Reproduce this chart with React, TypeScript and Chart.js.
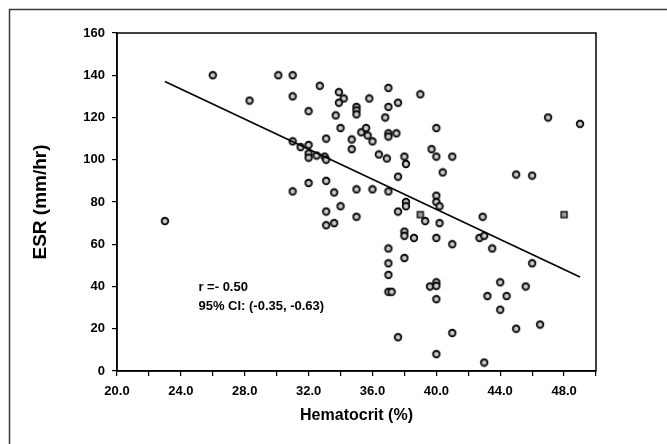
import React, { useEffect, useRef } from 'react';
import { Chart, registerables } from 'chart.js';

Chart.register(...registerables);

// Hematocrit (%) vs ESR (mm/hr) — circle markers
const hematocrit = [
  23.0, 26.0, 28.3, 30.1, 31.0, 31.0, 31.0, 31.0, 31.5, 32.0,
  32.0, 32.0, 32.0, 32.0, 32.5, 32.7, 33.0, 33.1, 33.1, 33.1,
  33.1, 33.1, 33.6, 33.6, 33.9, 34.2, 33.9, 33.7, 34.0, 34.0,
  34.7, 34.7, 35.0, 35.0, 35.0, 35.0, 35.0, 35.3, 35.6, 35.7,
  35.8, 36.0, 36.0, 36.4, 36.8, 36.9, 37.0, 37.0, 37.0, 37.0,
  37.0, 37.0, 37.0, 37.0, 37.0, 37.2, 37.5, 37.6, 37.6, 37.6,
  37.6, 38.0, 38.1, 38.1, 38.1, 38.0, 38.0, 38.0, 38.6, 39.0,
  39.3, 39.6, 39.7, 40.0, 40.0, 40.0, 40.0, 40.2, 40.2, 40.0,
  40.0, 40.0, 40.0, 40.0, 40.4, 41.0, 41.0, 41.0, 42.9, 42.7,
  43.0, 43.0, 43.2, 43.5, 44.0, 44.0, 44.4, 45.0, 45.0, 45.6,
  46.0, 46.0, 46.5, 47.0, 49.0,
];
const esr = [
  71, 140, 128, 140, 140, 130, 108.7, 85, 106, 107,
  103, 101, 123, 89, 102, 135, 101.5, 100, 110, 90,
  75.5, 69, 70, 84.5, 132, 129, 127, 121, 115, 78,
  109.6, 105, 125, 123.4, 121.5, 86, 73, 113, 115, 111.5,
  129, 108.7, 86, 102.5, 120, 100.6, 134, 125, 112.5, 111,
  85, 58, 51, 45.5, 37.5, 37.5, 112.5, 127, 92, 75.5,
  16, 101.5, 98, 80, 78, 66, 64, 53.5, 63, 131,
  71, 40, 105, 115, 101.5, 83, 80, 78, 70, 63,
  42, 40.3, 34, 8, 94, 101.5, 60, 18, 73, 63,
  64, 4, 35.5, 58, 42, 29, 35.5, 93, 20, 40,
  92.5, 51, 22, 120, 117,
];

// Square markers
const squareHematocrit = [39.0, 48.0];
const squareEsr = [74, 74];

// Regression line end points
const fitHematocrit = [23.0, 49.0];
const fitEsr = [137, 44.5];

const annotationLines = ['r =- 0.50', '95% CI: (-0.35, -0.63)'];
const annotationAt = { x: 25.1, y: [39.4, 30.4] };

const xTitle = 'Hematocrit (%)';
const yTitle = 'ESR (mm/hr)';

const FONT = "'Liberation Sans', Arial, Helvetica, sans-serif";

function makeCircle(): HTMLCanvasElement {
  const c = document.createElement('canvas');
  c.width = 10;
  c.height = 10;
  const g = c.getContext('2d')!;
  g.beginPath();
  g.arc(5, 5, 3.4, 0, Math.PI * 2);
  g.fillStyle = '#8c8c8c';
  g.fill();
  g.strokeStyle = '#000';
  g.lineWidth = 1.6;
  g.stroke();
  g.strokeStyle = '#e8e8e8';
  g.lineWidth = 1;
  g.beginPath();
  g.moveTo(5, 3);
  g.lineTo(5, 7);
  g.moveTo(3, 5);
  g.lineTo(7, 5);
  g.stroke();
  return c;
}

function makeSquare(): HTMLCanvasElement {
  const c = document.createElement('canvas');
  c.width = 10;
  c.height = 10;
  const g = c.getContext('2d')!;
  g.fillStyle = '#9a9a9a';
  g.fillRect(2, 2, 6, 6);
  g.strokeStyle = '#000';
  g.lineWidth = 1.3;
  g.strokeRect(2, 2, 6, 6);
  return c;
}

const framePlugin = {
  id: 'framePlugin',
  beforeDraw(chart: any) {
    const ctx = chart.ctx;
    ctx.save();
    ctx.fillStyle = '#fff';
    ctx.fillRect(0, 0, chart.width, chart.height);
    ctx.strokeStyle = '#3a3a3a';
    ctx.lineWidth = 1.5;
    ctx.beginPath();
    ctx.moveTo(9.5, chart.height + 2);
    ctx.lineTo(9.5, 9.5);
    ctx.lineTo(chart.width + 2, 9.5);
    ctx.stroke();
    ctx.restore();
  },
  afterDraw(chart: any) {
    const ctx = chart.ctx;
    const a = chart.chartArea;
    ctx.save();
    ctx.strokeStyle = '#000';
    ctx.lineWidth = 1.5;
    ctx.strokeRect(a.left, a.top, a.right - a.left, a.bottom - a.top);
    const xs = chart.scales.x;
    const ys = chart.scales.y;
    ctx.fillStyle = '#000';
    ctx.font = `bold 13px ${FONT}`;
    ctx.textBaseline = 'middle';
    ctx.textAlign = 'left';
    annotationLines.forEach((t, i) => {
      ctx.fillText(t, xs.getPixelForValue(annotationAt.x), ys.getPixelForValue(annotationAt.y[i]));
    });
    ctx.restore();
  },
};

export default function App() {
  const ref = useRef<HTMLCanvasElement | null>(null);
  useEffect(() => {
    if (!ref.current) return;
    const circle = makeCircle();
    const square = makeSquare();
    const chart = new Chart(ref.current, {
      type: 'scatter',
      data: {
        datasets: [
          {
            type: 'line',
            label: 'fit',
            data: fitHematocrit.map((x, i) => ({ x, y: fitEsr[i] })),
            borderColor: '#000',
            borderWidth: 1.6,
            pointRadius: 0,
            fill: false,
          } as any,
          {
            label: 'circles',
            data: hematocrit.map((x, i) => ({ x, y: esr[i] })),
            pointStyle: circle,
            pointRadius: 5,
          },
          {
            label: 'squares',
            data: squareHematocrit.map((x, i) => ({ x, y: squareEsr[i] })),
            pointStyle: square,
            pointRadius: 5,
          },
        ],
      },
      options: {
        animation: false,
        responsive: false,
        maintainAspectRatio: false,
        layout: { padding: { left: 0, top: 33, right: 71, bottom: 0 } },
        plugins: { legend: { display: false }, tooltip: { enabled: false } },
        scales: {
          x: {
            type: 'linear',
            min: 20,
            max: 50,
            afterFit: (s: any) => { s.height = 73; },
            ticks: {
              stepSize: 2,
              padding: 8,
              color: '#000',
              font: { family: FONT, size: 13, weight: 'bold' },
              maxRotation: 0,
              autoSkip: false,
              callback: (v: any) => (Math.round(Number(v) - 20) % 4 === 0 ? Number(v).toFixed(1) : ''),
            },
            grid: { drawOnChartArea: false, drawTicks: true, tickLength: 5, color: '#000', lineWidth: 1.2 },
            border: { display: true, color: '#000', width: 1.5 },
            title: {
              display: true,
              text: xTitle,
              color: '#000',
              font: { family: FONT, size: 16, weight: 'bold' },
              padding: { top: 0, bottom: 19 },
            },
          },
          y: {
            type: 'linear',
            min: 0,
            max: 160,
            afterFit: (s: any) => { s.width = 117; },
            ticks: {
              stepSize: 20,
              padding: 7,
              color: '#000',
              font: { family: FONT, size: 13, weight: 'bold' },
              callback: (v: any) => String(v),
            },
            grid: { drawOnChartArea: false, drawTicks: true, tickLength: 5, color: '#000', lineWidth: 1.2 },
            border: { display: true, color: '#000', width: 1.5 },
            title: {
              display: true,
              text: yTitle,
              color: '#000',
              font: { family: FONT, size: 19, weight: 'bold' },
              padding: { top: 29, bottom: 0 },
            },
          },
        },
      },
      plugins: [framePlugin],
    });
    return () => chart.destroy();
  }, []);
  return (
    <div style={{ position: 'fixed', left: 0, top: 0, width: 667, height: 444, background: '#fff' }}>
      <canvas ref={ref} width={667} height={444} style={{ display: 'block' }} />
    </div>
  );
}
